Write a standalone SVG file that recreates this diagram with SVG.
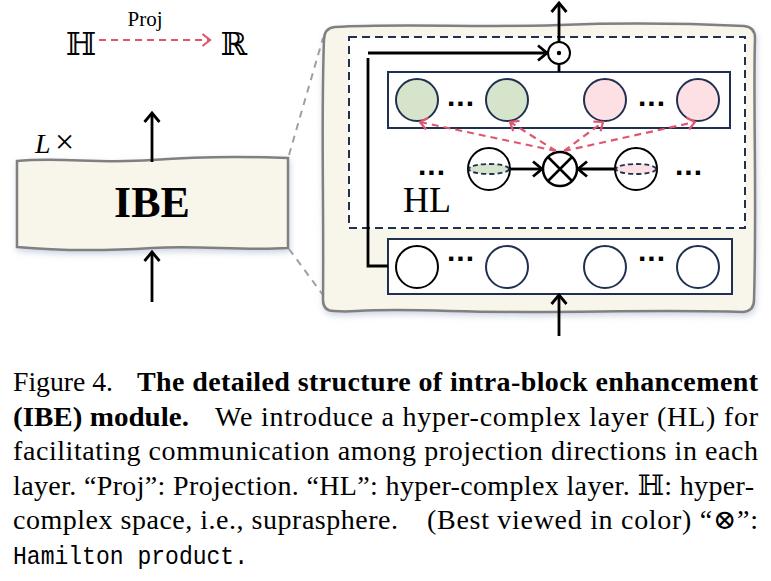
<svg xmlns="http://www.w3.org/2000/svg" width="771" height="581" viewBox="0 0 771 581">
<style>
.serif{font-family:"Liberation Serif","DejaVu Serif","DejaVu Sans",serif;fill:#000}
.mono{font-family:"Liberation Mono","DejaVu Sans Mono",monospace;fill:#000}
.ar{stroke:#000;stroke-width:2.8;fill:none}
.red{stroke:#e0566f;stroke-width:2.2;fill:none;stroke-dasharray:7 5}
.navy{stroke:#1f3050;stroke-width:2}
.dots{font-family:"Liberation Sans","DejaVu Sans",sans-serif;font-weight:bold;font-size:30px;letter-spacing:1px;text-anchor:middle;fill:#000}
.gray{stroke:#a0a0a0;stroke-width:2;stroke-dasharray:7 6;fill:none}
</style>
<defs>
<marker id="ah" viewBox="0 0 10 16" refX="9" refY="8" markerWidth="10" markerHeight="16" markerUnits="userSpaceOnUse" orient="auto" overflow="visible">
<path d="M0,0.5 L9,8 L0,15.5" fill="none" stroke="#000" stroke-width="2.8"/>
</marker>
<marker id="rh" viewBox="0 0 8 12" refX="7.5" refY="6" markerWidth="8" markerHeight="12" markerUnits="userSpaceOnUse" orient="auto" overflow="visible">
<path d="M0,0 L7.5,6 L0,12" fill="none" stroke="#e0566f" stroke-width="2.2"/>
</marker>
<filter id="sh" x="-10%" y="-10%" width="120%" height="130%">
<feDropShadow dx="1" dy="3" stdDeviation="3" flood-color="#8fa0c0" flood-opacity="0.45"/>
</filter>
</defs>

<g id="legend">
<text class="serif" x="145" y="26" font-size="21" text-anchor="middle">Proj</text>
<text class="serif" x="81" y="55" font-size="32" text-anchor="middle">ℍ</text>
<text class="serif" x="234" y="55" font-size="32" text-anchor="middle">ℝ</text>
<line class="red" x1="99" y1="40" x2="210" y2="40" marker-end="url(#rh)"/>
</g>

<g id="zoom-lines">
<line class="gray" x1="289" y1="155" x2="323" y2="38"/>
<line class="gray" x1="289" y1="249" x2="323" y2="295"/>
</g>

<g id="ibe">
<path d="M17,161 C60,157 100,164 152,160 S240,156 288,158 L288,248 C240,251 200,245 152,248 S60,251 17,247 Z" fill="#f8f6eb" stroke="#808080" stroke-width="2.5" filter="url(#sh)"/>
<text class="serif" x="152" y="217" font-size="44" font-weight="bold" text-anchor="middle">IBE</text>
<text class="serif" x="35" y="153" font-size="28" font-style="italic">L</text>
<text class="serif" x="55" y="153" font-size="34">×</text>
</g>

<g id="module">
<path d="M335,27 C400,23 480,28 560,25 S700,24 744,26 Q755,27 755,38 C753,100 757,200 754,300 Q754,311 743,312 C650,309 550,314 450,311 S360,313 334,311 Q323,311 323,300 C324,200 321,120 324,40 Q324,28 335,27 Z" fill="#f8f6eb" stroke="#808080" stroke-width="2.5" filter="url(#sh)"/>
</g>

<g id="hl">
<rect x="349" y="37" width="396" height="191" fill="#fff" stroke="#1f3050" stroke-width="2" stroke-dasharray="8 5"/>
<text class="serif" x="403" y="212" font-size="36">HL</text>
</g>

<g id="top-layer">
<rect x="388" y="72" width="342" height="56" fill="#fff" class="navy"/>
<circle cx="417" cy="100" r="21" fill="#d6e4cb" class="navy"/>
<circle cx="507" cy="100" r="21" fill="#d6e4cb" class="navy"/>
<circle cx="605" cy="100" r="21" fill="#fde0e3" class="navy"/>
<circle cx="698" cy="100" r="21" fill="#fde0e3" class="navy"/>
<text class="dots" x="461" y="106">...</text>
<text class="dots" x="652" y="106">...</text>
</g>

<g id="bottom-layer">
<rect x="388" y="239" width="344" height="55" fill="#fff" class="navy"/>
<circle cx="417" cy="267" r="21" fill="#fff" stroke="#000" stroke-width="2"/>
<circle cx="507" cy="267" r="21" fill="#fff" class="navy"/>
<circle cx="605" cy="267" r="21" fill="#fff" class="navy"/>
<circle cx="698" cy="267" r="21" fill="#fff" class="navy"/>
<text class="dots" x="461" y="261">...</text>
<text class="dots" x="652" y="261">...</text>
</g>

<g id="hamilton">
<circle cx="489" cy="169" r="21" fill="#fff" stroke="#000" stroke-width="2"/>
<ellipse cx="489" cy="169" rx="20" ry="5" fill="#d6e4cb" stroke="#1f3050" stroke-width="1.8" stroke-dasharray="5 3"/>
<circle cx="636" cy="169" r="21" fill="#fff" stroke="#000" stroke-width="2"/>
<ellipse cx="636" cy="169" rx="20" ry="5" fill="#fde0e3" stroke="#1f3050" stroke-width="1.8" stroke-dasharray="5 3"/>
<circle cx="560" cy="169" r="17" fill="#fff" stroke="#000" stroke-width="2.5"/>
<path d="M548,157 L572,181 M572,157 L548,181" stroke="#000" stroke-width="2.5"/>
<text class="dots" x="432" y="175">...</text>
<text class="dots" x="689" y="175">...</text>
</g>

<g id="odot">
<circle cx="559" cy="53" r="11" fill="#fff" stroke="#000" stroke-width="2"/>
<circle cx="559" cy="53" r="2.2" fill="#000"/>
</g>

<g id="connectors">
<line class="ar" x1="152" y1="162" x2="152" y2="113" marker-end="url(#ah)"/>
<line class="ar" x1="152" y1="302" x2="152" y2="252" marker-end="url(#ah)"/>
<line class="ar" x1="559" y1="42" x2="559" y2="3" marker-end="url(#ah)"/>
<line class="ar" x1="559" y1="72" x2="559" y2="64"/>
<line class="ar" x1="368" y1="53" x2="547" y2="53" marker-end="url(#ah)"/>
<polyline class="ar" points="388,266 368,266 368,58"/>
<line class="ar" x1="559" y1="336" x2="559" y2="295" marker-end="url(#ah)"/>
<line class="ar" x1="510" y1="169" x2="542" y2="169" marker-end="url(#ah)"/>
<line class="ar" x1="615" y1="169" x2="578" y2="169" marker-end="url(#ah)"/>
<line class="red" x1="556" y1="151" x2="420" y2="122" marker-end="url(#rh)"/>
<line class="red" x1="556" y1="151" x2="510" y2="122" marker-end="url(#rh)"/>
<line class="red" x1="564" y1="151" x2="603" y2="122" marker-end="url(#rh)"/>
<line class="red" x1="564" y1="151" x2="695" y2="122" marker-end="url(#rh)"/>
</g>

<g id="caption" font-size="28">
<text class="serif" x="13" y="391" textLength="100" lengthAdjust="spacingAndGlyphs">Figure 4.</text>
<text class="serif" x="137" y="391" font-weight="bold" textLength="621" lengthAdjust="spacing">The detailed structure of intra-block enhancement</text>
<text class="serif" x="13" y="425.5" font-weight="bold" textLength="176" lengthAdjust="spacingAndGlyphs">(IBE) module.</text>
<text class="serif" x="215" y="425.5" textLength="543" lengthAdjust="spacing">We introduce a hyper-complex layer (HL) for</text>
<text class="serif" x="13" y="460" textLength="745" lengthAdjust="spacing">facilitating communication among projection directions in each</text>
<text class="serif" x="13" y="494.5" textLength="741" lengthAdjust="spacing">layer. “Proj”: Projection. “HL”: hyper-complex layer. ℍ: hyper-</text>
<text class="serif" x="13" y="529" textLength="385" lengthAdjust="spacing">complex space, i.e., suprasphere.</text>
<text class="serif" x="427" y="529" textLength="331" lengthAdjust="spacing">(Best viewed in color) “⊗”:</text>
<text class="mono" x="13" y="563.5" font-size="26" textLength="235" lengthAdjust="spacingAndGlyphs">Hamilton product.</text>
</g>
</svg>
